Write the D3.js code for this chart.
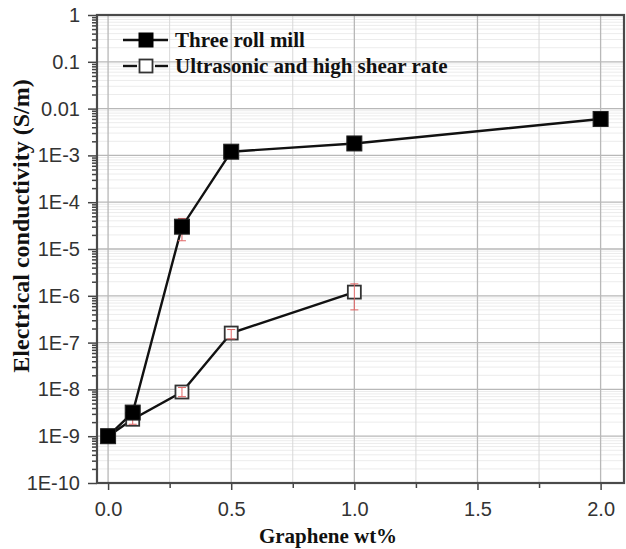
<!DOCTYPE html>
<html>
<head>
<meta charset="utf-8">
<script src="https://cdn.jsdelivr.net/npm/d3@7"></script>
<style>
  html, body { margin: 0; padding: 0; background: #fff; }
  svg { display: block; }
</style>
</head>
<body>
<svg id="chart" width="626" height="549"></svg>
<script>
/* --- Data: --- */
var graphene = [0.0, 0.1, 0.3, 0.5, 1.0, 2.0];
var threeRoll = [1e-9, 3.2e-9, 3e-5, 1.2e-3, 1.8e-3, 6e-3];
var threeRollLow = [0.9e-9, 2.6e-9, 1.5e-5, 1.0e-3, 1.4e-3, 5.2e-3];
var threeRollHigh = [1.1e-9, 3.9e-9, 4.5e-5, 1.4e-3, 2.2e-3, 6.8e-3];

var ultraX = [0.0, 0.1, 0.3, 0.5, 1.0];
var ultrasonic = [1e-9, 2.3e-9, 8.8e-9, 1.6e-7, 1.2e-6];
var ultraLow = [0.9e-9, 1.8e-9, 7e-9, 1.2e-7, 5e-7];
var ultraHigh = [1.1e-9, 2.8e-9, 1.1e-8, 1.9e-7, 1.8e-6];

var xTicks = [0.0, 0.5, 1.0, 1.5, 2.0];
var xMinor = [0.25, 0.75, 1.25, 1.75];
var yTicks = [1, 0.1, 0.01, 1e-3, 1e-4, 1e-5, 1e-6, 1e-7, 1e-8, 1e-9, 1e-10];
var yTickLabels = ["1", "0.1", "0.01", "1E-3", "1E-4", "1E-5", "1E-6", "1E-7", "1E-8", "1E-9", "1E-10"];
var seriesNames = ["Three roll mill", "Ultrasonic and high shear rate"];

/* --- Layout: --- */
var plotL = 97, plotR = 624, plotT = 15, plotB = 483;
var svg = d3.select("#chart");

var x = d3.scaleLinear().domain([-0.045, 2.095]).range([plotL, plotR]);
var y = d3.scaleLog().domain([1e-10, 1]).range([plotB, plotT]);

// minor log values (2..9 per decade)
var yMinor = [];
for (let e = -10; e < 0; e++) {
    for (let m = 2; m <= 9; m++) yMinor.push(m * Math.pow(10, e));
}

/* --- Grid: --- */
var grid = svg.append("g");
grid.selectAll(".ymin").data(yMinor).join("line")
    .attr("x1", plotL).attr("x2", plotR)
    .attr("y1", d => y(d)).attr("y2", d => y(d))
    .attr("stroke", "#ececec").attr("stroke-width", 1);
grid.selectAll(".xmin").data(xMinor).join("line")
    .attr("x1", d => x(d)).attr("x2", d => x(d))
    .attr("y1", plotT).attr("y2", plotB)
    .attr("stroke", "#d8d8d8").attr("stroke-width", 1);
grid.selectAll(".ymaj").data(yTicks).join("line")
    .attr("x1", plotL).attr("x2", plotR)
    .attr("y1", d => y(d)).attr("y2", d => y(d))
    .attr("stroke", "#b8b8b8").attr("stroke-width", 1.3);
grid.selectAll(".xmaj").data(xTicks).join("line")
    .attr("x1", d => x(d)).attr("x2", d => x(d))
    .attr("y1", plotT).attr("y2", plotB)
    .attr("stroke", "#b8b8b8").attr("stroke-width", 1.3);

/* --- Axes: --- */
svg.append("g")
    .attr("transform", "translate(" + plotL + ",0)")
    .call(d3.axisLeft(y).tickValues(yTicks).tickSize(9).tickPadding(8)
        .tickFormat((d, i) => yTickLabels[i]));
svg.append("g")
    .attr("transform", "translate(" + plotL + ",0)")
    .call(d3.axisLeft(y).tickValues(yMinor).tickSize(5).tickFormat(""));

svg.append("g")
    .attr("transform", "translate(0," + plotB + ")")
    .call(d3.axisBottom(x).tickValues(xTicks).tickSize(7).tickPadding(12)
        .tickFormat(d3.format(".1f")));
svg.append("g")
    .attr("transform", "translate(0," + plotB + ")")
    .call(d3.axisBottom(x).tickValues(xMinor).tickSize(5).tickFormat(""));

svg.selectAll(".tick line").attr("stroke", "#444").attr("stroke-width", 1.5);
svg.selectAll(".domain").remove();
svg.selectAll(".tick text")
    .attr("font-family", "Liberation Sans, Arial, sans-serif")
    .attr("font-size", 20)
    .attr("fill", "#333");

// frame
svg.append("rect")
    .attr("x", plotL).attr("y", plotT)
    .attr("width", plotR - plotL).attr("height", plotB - plotT)
    .attr("fill", "none").attr("stroke", "#4a4a4a").attr("stroke-width", 2.2);

/* --- Error bars: --- */
function errorBars(xs, lo, hi) {
    var g = svg.append("g").attr("stroke", "#e06666").attr("stroke-width", 1);
    g.selectAll("line.v").data(xs).join("line")
        .attr("x1", d => x(d)).attr("x2", d => x(d))
        .attr("y1", (d, i) => y(lo[i])).attr("y2", (d, i) => y(hi[i]));
    g.selectAll("line.lo").data(xs).join("line")
        .attr("x1", d => x(d) - 4).attr("x2", d => x(d) + 4)
        .attr("y1", (d, i) => y(lo[i])).attr("y2", (d, i) => y(lo[i]));
    g.selectAll("line.hi").data(xs).join("line")
        .attr("x1", d => x(d) - 4).attr("x2", d => x(d) + 4)
        .attr("y1", (d, i) => y(hi[i])).attr("y2", (d, i) => y(hi[i]));
}

/* --- Series: --- */
var line = d3.line().x(d => x(d[0])).y(d => y(d[1]));
var ms = 15;

var ultraPts = ultraX.map((d, i) => [d, ultrasonic[i]]);
svg.append("path").datum(ultraPts)
    .attr("d", line).attr("fill", "none")
    .attr("stroke", "#111").attr("stroke-width", 2.4);
svg.selectAll(".uPt").data(ultraPts).join("rect")
    .attr("x", d => x(d[0]) - ms / 2 + 1).attr("y", d => y(d[1]) - ms / 2 + 1)
    .attr("width", ms - 2).attr("height", ms - 2)
    .attr("fill", "#fff").attr("stroke", "#333").attr("stroke-width", 1.8);
errorBars(ultraX, ultraLow, ultraHigh);

var rollPts = graphene.map((d, i) => [d, threeRoll[i]]);
svg.append("path").datum(rollPts)
    .attr("d", line).attr("fill", "none")
    .attr("stroke", "#111").attr("stroke-width", 2.4);
errorBars(graphene, threeRollLow, threeRollHigh);
svg.selectAll(".rPt").data(rollPts).join("rect")
    .attr("x", d => x(d[0]) - ms / 2).attr("y", d => y(d[1]) - ms / 2)
    .attr("width", ms).attr("height", ms)
    .attr("fill", "#000").attr("stroke", "#222").attr("stroke-width", 1);

/* --- Legend: --- */
var serif = "Liberation Serif, Times New Roman, serif";
var legend = svg.append("g");
var legY = [40, 66];
legend.append("line").attr("x1", 123).attr("x2", 168).attr("y1", legY[0]).attr("y2", legY[0])
    .attr("stroke", "#111").attr("stroke-width", 2.4);
legend.append("rect").attr("x", 146 - ms / 2).attr("y", legY[0] - ms / 2)
    .attr("width", ms).attr("height", ms).attr("fill", "#000");
legend.append("line").attr("x1", 123).attr("x2", 137).attr("y1", legY[1]).attr("y2", legY[1])
    .attr("stroke", "#111").attr("stroke-width", 2.4);
legend.append("line").attr("x1", 155).attr("x2", 168).attr("y1", legY[1]).attr("y2", legY[1])
    .attr("stroke", "#111").attr("stroke-width", 2.4);
legend.append("rect").attr("x", 146 - ms / 2 + 1).attr("y", legY[1] - ms / 2 + 1)
    .attr("width", ms - 2).attr("height", ms - 2)
    .attr("fill", "#fff").attr("stroke", "#333").attr("stroke-width", 1.8);
legend.selectAll("text").data(seriesNames).join("text")
    .attr("x", 175).attr("y", (d, i) => legY[i] + 7)
    .attr("font-family", serif).attr("font-weight", "bold").attr("font-size", 21)
    .attr("fill", "#111")
    .text(d => d);

/* --- Titles: --- */
svg.append("text")
    .attr("transform", "translate(29,226) rotate(-90)")
    .attr("text-anchor", "middle")
    .attr("font-family", serif).attr("font-weight", "bold").attr("font-size", 24)
    .attr("fill", "#111")
    .text("Electrical conductivity (S/m)");
svg.append("text")
    .attr("x", 328).attr("y", 543)
    .attr("text-anchor", "middle")
    .attr("font-family", serif).attr("font-weight", "bold").attr("font-size", 21)
    .attr("fill", "#111")
    .text("Graphene wt%");
</script>
</body>
</html>
